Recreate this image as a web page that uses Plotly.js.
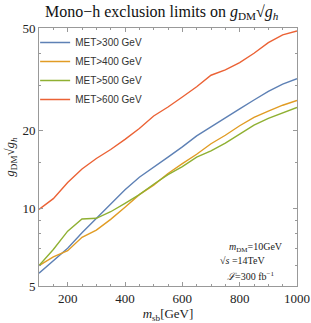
<!DOCTYPE html>
<html><head><meta charset="utf-8">
<script src="https://cdn.plot.ly/plotly-3.0.1.min.js"></script>
<style>html,body{margin:0;padding:0;background:#fff}#chart{width:311px;height:323px}</style>
</head><body><div id="chart"></div>
<script>
const mass = [100,150,200,250,300,350,400,450,500,550,600,650,700,750,800,850,900,950,1000];
const met300 = [5.6,6.24,7.0,8.04,9.15,10.46,11.8,13.2,14.5,15.8,17.3,19.1,20.7,22.5,24.3,26.3,28.4,30.3,31.8];
const met400 = [6.0,6.49,6.85,7.72,8.24,9.06,10.1,11.3,12.3,13.65,14.9,16.2,17.8,19.2,20.9,22.5,23.8,25.1,26.2];
const met500 = [6.0,6.93,8.16,9.09,9.15,9.7,10.46,11.3,12.4,13.5,14.5,15.8,16.7,17.9,19.4,21.0,22.3,23.4,24.6];
const met600 = [9.9,10.9,12.6,14.2,15.6,16.9,18.5,20.4,22.8,24.7,27.0,29.6,32.8,34.4,36.7,39.9,43.9,47.0,48.7];
const seriesNames = ["MET>300 GeV","MET>400 GeV","MET>500 GeV","MET>600 GeV"];
const colors = ["#5E81B5","#E19C24","#8FB032","#EB6235"];
const yTicks = [5,10,20,50];
const yMinor = [6,7,8,9,15,30,40];
const xTicks = [200,400,600,800,1000];

const ys = [met300, met400, met500, met600];
const traces = ys.map((y,i)=>({x:mass,y:y,type:'scatter',mode:'lines',name:seriesNames[i],
  line:{color:colors[i],width:1.4}}));

const serif = "Liberation Serif";
const axisCommon = {showline:true,linecolor:'#999',linewidth:1,mirror:'ticks',ticks:'inside',ticklen:4,
  tickcolor:'#999',showgrid:false,zeroline:false,tickfont:{family:serif,size:13,color:'#222'}};

const layout = {
  width:311,height:323,
  margin:{l:39,r:14,t:28,b:37},
  paper_bgcolor:'#fff',plot_bgcolor:'#fff',
  title:{text:"Mono−h exclusion limits on <i>g</i><sub>DM</sub>√<i>g<sub>h</sub></i>",
    font:{family:serif,size:16,color:'#111'},x:0.52,xanchor:'center',y:0.965,yanchor:'middle'},
  xaxis:Object.assign({},axisCommon,{range:[100,1000],tickvals:xTicks,
    minor:{dtick:50,tick0:0,ticks:'inside',ticklen:2,tickcolor:'#999'},
    title:{text:"<i>m</i><sub>sb</sub>[GeV]",font:{family:serif,size:13,color:'#222'},standoff:9}}),
  yaxis:Object.assign({},axisCommon,{type:'log',range:[Math.log10(5),Math.log10(50)],tickvals:yTicks,
    minor:{tickvals:yMinor,ticks:'inside',ticklen:2,tickcolor:'#999'},
    title:{text:"<i>g</i><sub>DM</sub>√<i>g<sub>h</sub></i>",font:{family:serif,size:13,color:'#222'},standoff:4}}),
  legend:{x:-0.015,y:1.0,xanchor:'left',yanchor:'top',bgcolor:'rgba(255,255,255,0)',
    font:{family:"Liberation Sans",size:10,color:'#333'},tracegroupgap:0,itemwidth:30},
  showlegend:true,
  annotations:[
    {text:"<i>m</i><sub>DM</sub>=10GeV",xref:'paper',yref:'paper',x:0.84,y:0.148,xanchor:'center',yanchor:'middle',showarrow:false,font:{family:serif,size:10,color:'#222'}},
    {text:"√<i>s</i> =14TeV",xref:'paper',yref:'paper',x:0.79,y:0.098,xanchor:'center',yanchor:'middle',showarrow:false,font:{family:serif,size:10,color:'#222'}},
    {text:"<i>ℒ</i>=300 fb<sup>−1</sup>",xref:'paper',yref:'paper',x:0.82,y:0.04,xanchor:'center',yanchor:'middle',showarrow:false,font:{family:serif,size:10,color:'#222'}}
  ]
};
Plotly.newPlot('chart',traces,layout,{staticPlot:true,displayModeBar:false});
</script></body></html>
